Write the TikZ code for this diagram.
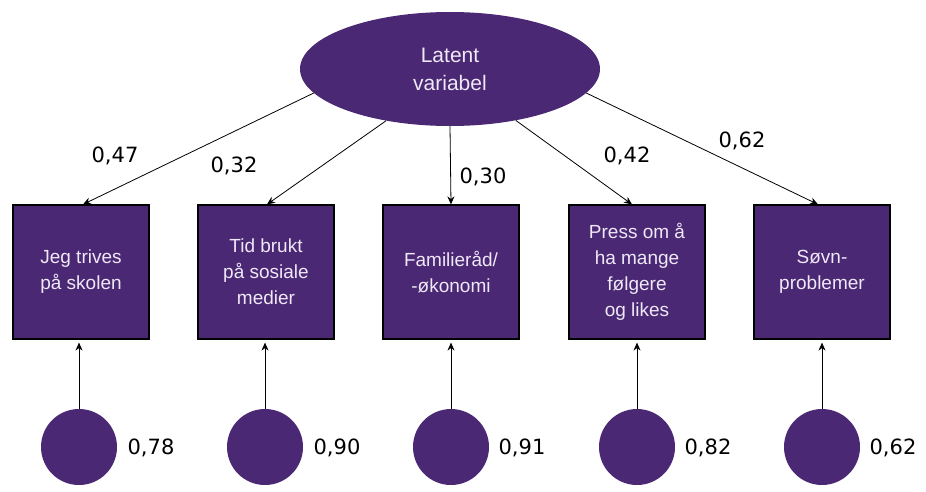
\documentclass[tikz,border=0pt]{standalone}
\usepackage{fontspec}
\setmainfont{Liberation Sans}
\newfontfamily\coeffont{DejaVu Sans}
\usetikzlibrary{shapes.geometric,arrows.meta}
\definecolor{purp}{HTML}{4A2874}
\definecolor{lav}{HTML}{EFE8F7}
\tikzset{
  latentnode/.style={ellipse, fill=purp, minimum width=300pt, minimum height=114pt, inner sep=0pt,
    text=lav, align=center, font=\fontsize{21}{28}\selectfont},
  obsbox/.style={rectangle, fill=purp, draw=black, line width=1.2pt, minimum width=136pt, minimum height=134pt,
    inner sep=0pt, text=lav, align=center, font=\fontsize{19}{26}\selectfont},
  errnode/.style={circle, fill=purp, minimum size=76pt, inner sep=0pt},
  coef/.style={font=\coeffont\fontsize{21}{26}\selectfont, text=black},
  arr/.style={-{Stealth[length=8pt,width=7pt]}, line width=0.8pt, black},
}
\begin{document}
\begin{tikzpicture}[x=1pt,y=-1pt]
\useasboundingbox (0,0) rectangle (926,492);
\node[latentnode] (lat) at (450,69) {Latent\\variabel};
\node[obsbox] (b1) at (81,272) {Jeg trives\\på skolen};
\node[obsbox] (b2) at (266,272) {Tid brukt\\på sosiale\\medier};
\node[obsbox] (b3) at (451,272) {Familieråd/\\-økonomi};
\node[obsbox] (b4) at (637,272) {Press om å\\ha mange\\følgere\\og likes};
\node[obsbox] (b5) at (822,272) {Søvn-\\problemer};
\node[errnode] (c1) at (79,447) {};
\node[errnode] (c2) at (265,447) {};
\node[errnode] (c3) at (451,447) {};
\node[errnode] (c4) at (637,447) {};
\node[errnode] (c5) at (822,447) {};
\draw[arr] (lat.190) -- ([xshift=2pt]b1.north);
\draw[arr] (lat.219) -- ([xshift=1pt]b2.north);
\draw[arr] (lat.270) -- (b3.north);
\draw[arr] (lat.322) -- ([xshift=-5pt]b4.north);
\draw[arr] (lat.350) -- ([xshift=-4pt]b5.north);
\foreach \i in {1,...,5}{
  \draw[arr, shorten >=3pt] (c\i.north) -- (c\i.north |- b\i.south);
}
\node[coef] (l1) at (115,156) {0,47};
\node[coef] (l2) at (234,166) {0,32};
\node[coef] (l3) at (483,177) {0,30};
\node[coef] (l4) at (627,156) {0,42};
\node[coef] (l5) at (742,141) {0,62};
\node[coef] (e1) at (151,448) {0,78};
\node[coef] (e2) at (337,448) {0,90};
\node[coef] (e3) at (522,448) {0,91};
\node[coef] (e4) at (708,448) {0,82};
\node[coef] (e5) at (893,448) {0,62};
\end{tikzpicture}
\end{document}
